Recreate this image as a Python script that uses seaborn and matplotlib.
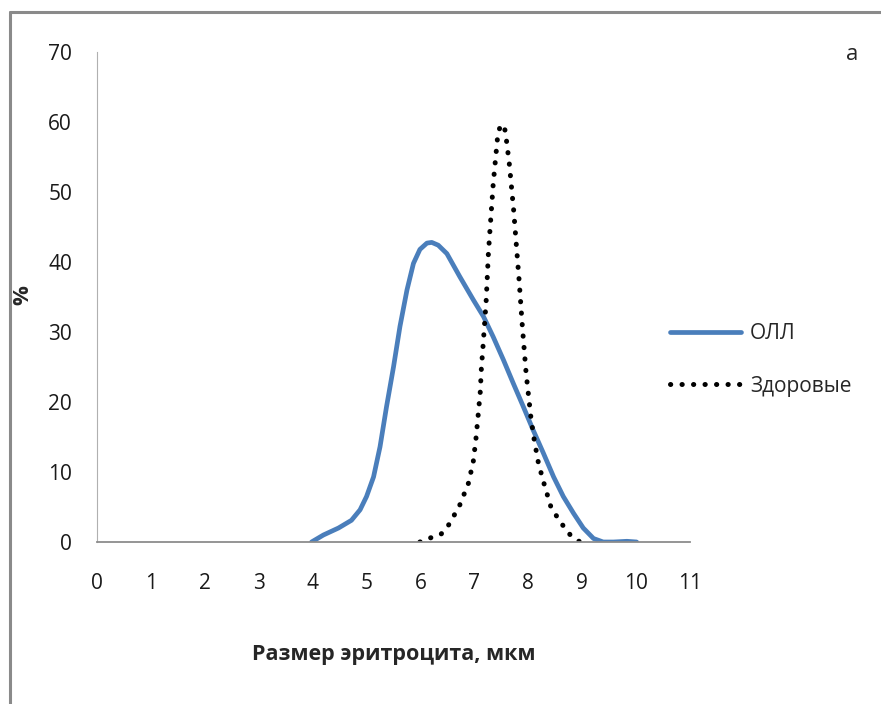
import matplotlib
matplotlib.use("Agg")
import matplotlib.pyplot as plt
import seaborn as sns
import pandas as pd
from matplotlib.lines import Line2D

# ---- data ----
oll_x = [3.98, 4.20, 4.48, 4.72, 4.88, 5.00, 5.13, 5.25, 5.37, 5.50, 5.62, 5.75, 5.87,
         5.99, 6.12, 6.21, 6.33, 6.49, 6.73, 6.98, 7.17, 7.35, 7.54, 7.72, 7.91, 8.09,
         8.28, 8.47, 8.65, 8.84, 9.02, 9.21, 9.39, 9.58, 9.83, 10.01]
oll_y = [0.0, 1.0, 2.0, 3.1, 4.6, 6.5, 9.3, 13.6, 19.3, 25.0, 30.8, 36.0, 39.8,
         41.8, 42.7, 42.8, 42.4, 41.2, 37.9, 34.6, 32.2, 29.3, 26.0, 22.7, 19.3, 16.0,
         12.7, 9.3, 6.5, 4.1, 2.0, 0.5, 0.0, 0.0, 0.1, 0.0]

healthy_x = [5.99, 6.19, 6.38, 6.52, 6.72, 6.89, 6.98, 7.03, 7.07, 7.11, 7.13, 7.16, 7.19,
             7.22, 7.24, 7.26, 7.29, 7.32, 7.35, 7.39, 7.43, 7.48, 7.53, 7.57, 7.60, 7.65,
             7.69, 7.73, 7.78, 7.83, 7.89, 7.96, 8.05, 8.11, 8.19, 8.29, 8.42, 8.59, 8.78, 8.96]
healthy_y = [0.0, 0.6, 1.1, 2.4, 5.1, 8.4, 11.5, 14.8, 18.1, 21.5, 24.8, 27.9, 31.2,
             34.6, 37.9, 41.2, 44.6, 47.9, 51.2, 54.5, 57.8, 59.5, 59.6, 58.8, 57.1, 53.9,
             50.6, 47.3, 42.3, 37.4, 30.8, 24.1, 17.7, 14.6, 11.2, 8.4, 5.0, 2.9, 1.0, 0.0]

series_labels = ["ОЛЛ", "Здоровые"]
x_ticks = list(range(0, 12))
y_ticks = list(range(0, 80, 10))
x_label = "Размер эритроцита, мкм"
y_label = "%"
panel_label = "а"

# ---- style ----
sns.set_theme(style="white")
plt.rcParams["font.family"] = ["Open Sans", "DejaVu Sans"]

fig = plt.figure(figsize=(8.81, 7.04), dpi=100)
ax = fig.add_axes([97 / 881, 1 - 542 / 704, (690 - 97) / 881, (542 - 52) / 704])

df_oll = pd.DataFrame({"x": oll_x, "y": oll_y})
df_h = pd.DataFrame({"x": healthy_x, "y": healthy_y})

sns.lineplot(data=df_oll, x="x", y="y", color="#4A7EBB", linewidth=3.4,
             label=series_labels[0], ax=ax, solid_capstyle="round",
             solid_joinstyle="round")
sns.lineplot(data=df_h, x="x", y="y", color="black", linewidth=3.6,
             linestyle=(0, (0.05, 2.25)), dash_capstyle="round",
             label=series_labels[1], ax=ax)

ax.set_xlim(0, 11)
ax.set_ylim(0, 70)
ax.set_xticks(x_ticks)
ax.set_yticks(y_ticks)
ax.set_xticklabels([str(v) for v in x_ticks])
ax.set_yticklabels([str(v) for v in y_ticks])
ax.tick_params(axis="both", length=0, labelsize=15, colors="#1a1a1a")
ax.tick_params(axis="x", pad=22)
ax.tick_params(axis="y", pad=18)

for s in ["top", "right"]:
    ax.spines[s].set_visible(False)
ax.spines["bottom"].set_color("#8c8c8c")
ax.spines["bottom"].set_linewidth(1.3)
ax.spines["left"].set_color("#b0b0b0")
ax.spines["left"].set_linewidth(0.8)
ax.spines["left"].set_linestyle((0, (2, 1)))

ax.set_xlabel(x_label, fontsize=15.5, fontweight="bold", labelpad=36)
ax.set_ylabel(y_label, fontsize=16, fontweight="bold")
ax.yaxis.set_label_coords((33 - 97) / 593, (542 - 295) / 490)

fig.text(852 / 881, 1 - 55 / 704, panel_label, fontsize=16, ha="center", va="center")

leg = ax.legend(loc="center left", bbox_to_anchor=(651 / 881, 1 - 360 / 704),
                bbox_transform=fig.transFigure, frameon=False, fontsize=15,
                handlelength=3.4, handletextpad=0.45, labelspacing=1.5)

# outer frame (left and top edges only visible)
fig.add_artist(Line2D([10 / 881, 10 / 881], [0, 1 - 12 / 704], transform=fig.transFigure,
                      color="#8a8a8a", linewidth=2.2))
fig.add_artist(Line2D([10 / 881, 1], [1 - 12 / 704, 1 - 12 / 704], transform=fig.transFigure,
                      color="#8a8a8a", linewidth=2.2))

fig.savefig("out.png", dpi=100)
